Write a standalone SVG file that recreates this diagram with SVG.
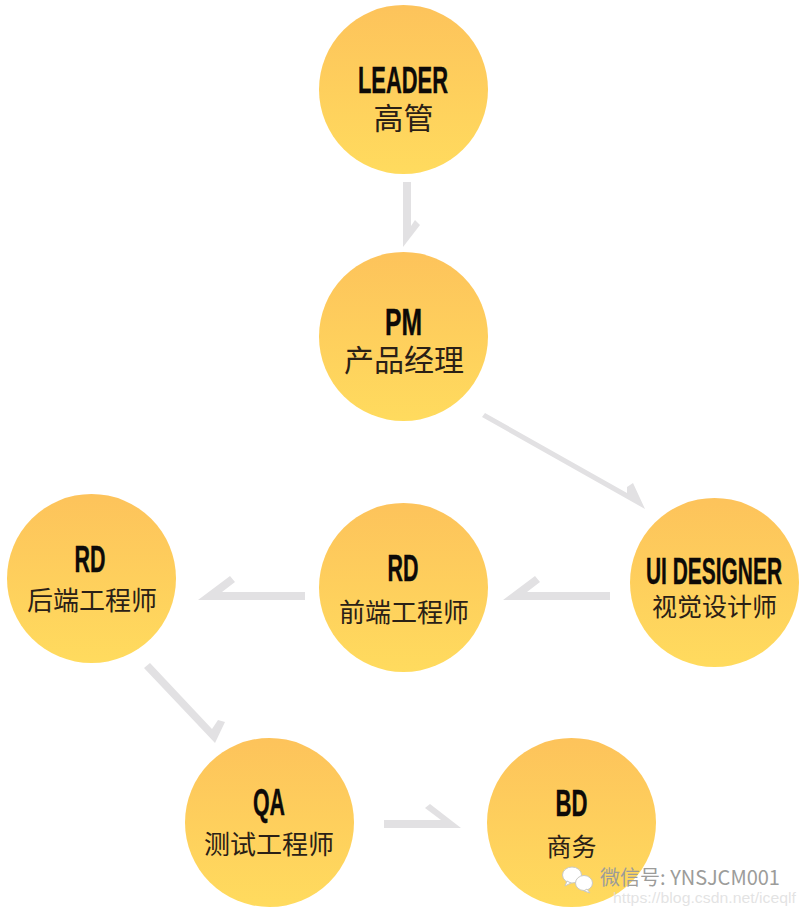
<svg xmlns="http://www.w3.org/2000/svg" width="805" height="914" viewBox="0 0 805 914">
<style>
text{text-anchor:middle}
.en{font-family:"Liberation Sans",Arial,sans-serif;font-weight:700;font-size:36px;fill:#0d0a08;stroke:#0d0a08;stroke-width:.4}
.cn{font-family:"Noto Sans CJK SC","Noto Sans",sans-serif;font-size:30px;fill:#2a2016}
.cn2{font-size:26px}
.cn3{font-size:25px}
.arrow{fill:#e2e1e3}
.c{fill:url(#g)}
.wm{font-family:"Noto Sans CJK SC","Liberation Sans",sans-serif;font-size:20px;fill:#9c9c9a;text-anchor:start}
.csdn{font-family:"Liberation Sans",sans-serif;font-size:15px;fill:#dcdcdc;fill-opacity:.8;text-anchor:start}
</style>
<defs><linearGradient id="g" x1="0" y1="0" x2="0" y2="1"><stop offset="0" stop-color="#fdc35b"/><stop offset="1" stop-color="#ffdb5e"/></linearGradient></defs>
<rect width="805" height="914" fill="#fff"/>
<g id="connectors">
<polygon class="arrow" points="403,182 411,182 411,226 415,220 420,225 403,247"/>
<polygon class="arrow" points="482,417 485,413 627,493 627,487 633,483 645,509"/>
<polygon class="arrow" points="610,592 610,600 503,600 535,576 540,582 527,592"/>
<polygon class="arrow" points="305,592 305,600 198,600 230,576 235,582 222,592"/>
<polygon class="arrow" points="144,668 150,663 212,729 218,720 225,722 215,743"/>
<polygon class="arrow" points="384,820 384,828 461,828 430,804 425,808 441,820"/>
</g>
<g id="leader"><circle class="c" cx="403.5" cy="89.5" r="84.5"/><text class="en" x="403" y="93" textLength="90" lengthAdjust="spacingAndGlyphs">LEADER</text><text class="cn" x="403.5" y="129">高管</text></g>
<g id="pm"><circle class="c" cx="403.5" cy="336.5" r="84.5"/><text class="en" x="403.5" y="335" textLength="37" lengthAdjust="spacingAndGlyphs">PM</text><text class="cn" x="404" y="371">产品经理</text></g>
<g id="ui-designer"><circle class="c" cx="714.5" cy="582.5" r="84.5"/><text class="en" x="714" y="584" textLength="136" lengthAdjust="spacingAndGlyphs">UI DESIGNER</text><text class="cn cn3" x="714.5" y="616">视觉设计师</text></g>
<g id="rd-front"><circle class="c" cx="403.5" cy="587.5" r="84.5"/><text class="en" x="403" y="581" textLength="31" lengthAdjust="spacingAndGlyphs">RD</text><text class="cn cn2" x="404" y="622">前端工程师</text></g>
<g id="rd-back"><circle class="c" cx="91.5" cy="578.5" r="84.5"/><text class="en" x="90" y="572" textLength="31" lengthAdjust="spacingAndGlyphs">RD</text><text class="cn cn2" x="92" y="610">后端工程师</text></g>
<g id="qa"><circle class="c" cx="269.5" cy="822.5" r="84.5"/><text class="en" x="269" y="815" textLength="32" lengthAdjust="spacingAndGlyphs">QA</text><text class="cn cn2" x="269" y="854">测试工程师</text></g>
<g id="bd"><circle class="c" cx="571.5" cy="822.5" r="84.5"/><text class="en" x="571.5" y="816" textLength="32" lengthAdjust="spacingAndGlyphs">BD</text><text class="cn cn3" x="571.5" y="856">商务</text></g>
<g id="watermark">
<ellipse cx="572" cy="875" rx="9.5" ry="8" fill="#fff" stroke="#c9c9c4"/>
<path d="M567 881l-2 5 6-3z" fill="#fff" stroke="#c9c9c4"/>
<ellipse cx="584" cy="883" rx="8.5" ry="7.5" fill="#fff" stroke="#c9c9c4"/>
<path d="M587 889l3 4-6-2z" fill="#fff" stroke="#c9c9c4"/>
<text class="wm" x="600" y="885" textLength="180" lengthAdjust="spacingAndGlyphs">微信号: YNSJCM001</text>
<text class="csdn" x="613" y="903" textLength="183" lengthAdjust="spacingAndGlyphs">https://blog.csdn.net/iceqlf</text>
</g>
</svg>
